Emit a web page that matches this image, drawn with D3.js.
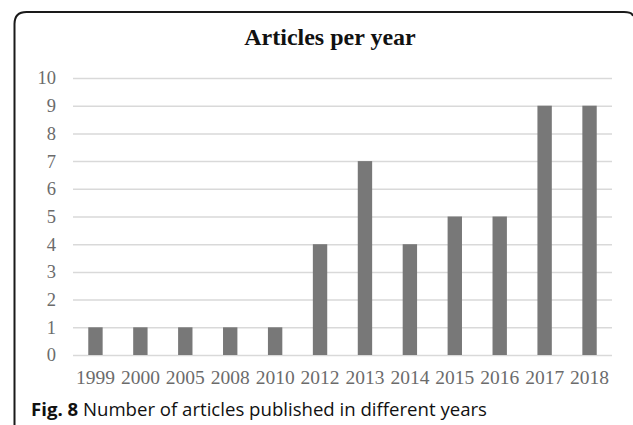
<!DOCTYPE html>
<html>
<head>
<meta charset="utf-8">
<script src="https://cdn.jsdelivr.net/npm/d3@7"></script>
<style>
  html, body { margin: 0; padding: 0; background: #fff; }
  svg { display: block; }
</style>
</head>
<body>
<svg id="chart" width="633" height="425"></svg>
<script>
// Publication counts per year
const years = ["1999", "2000", "2005", "2008", "2010", "2012", "2013", "2014", "2015", "2016", "2017", "2018"];
const articles = [1, 1, 1, 1, 1, 4, 7, 4, 5, 5, 9, 9];
const yTicks = [0, 1, 2, 3, 4, 5, 6, 7, 8, 9, 10];

const svg = d3.select("#chart");

// Panel frame: top and left edges with rounded corners
svg.append("path")
  .attr("d", "M14.5,425 L14.5,24 Q14.5,12 26.5,12 L624,12 Q632,12 633,16")
  .attr("fill", "none")
  .attr("stroke", "#1a1a1a")
  .attr("stroke-width", 2);

const plot = { left: 73, right: 612, top: 78, bottom: 355 };

const x = d3.scaleBand()
  .domain(years)
  .range([plot.left, plot.right])
  .paddingInner(0.68)
  .paddingOuter(0.34);

const y = d3.scaleLinear()
  .domain([0, 10])
  .range([plot.bottom, plot.top]);

// Title
svg.append("text")
  .attr("x", 330)
  .attr("y", 45)
  .attr("text-anchor", "middle")
  .attr("font-family", "'Liberation Serif', 'Times New Roman', serif")
  .attr("font-weight", "bold")
  .attr("font-size", 24)
  .attr("fill", "#111")
  .text("Articles per year");

// Horizontal gridlines + y tick labels
const yAxis = d3.axisLeft(y)
  .tickValues(yTicks)
  .tickSize(-(plot.right - plot.left))
  .tickPadding(17)
  .tickFormat(d3.format("d"));

const gy = svg.append("g")
  .attr("transform", `translate(${plot.left},0)`)
  .call(yAxis);
gy.select(".domain").remove();
gy.selectAll(".tick line")
  .attr("stroke", "#d9d9d9")
  .attr("stroke-width", 1.5);
gy.selectAll(".tick text")
  .attr("font-family", "'Liberation Serif', 'Times New Roman', serif")
  .attr("font-size", 18.5)
  .attr("fill", "#6b6b6b");

// Bars
svg.append("g")
  .selectAll("rect")
  .data(years.map((yr, i) => ({ yr, v: articles[i] })))
  .join("rect")
  .attr("x", d => x(d.yr))
  .attr("y", d => y(d.v))
  .attr("width", x.bandwidth())
  .attr("height", d => y(0) - y(d.v))
  .attr("fill", "#787878");

// Category labels
const xAxis = d3.axisBottom(x).tickSize(0).tickPadding(15);
const gx = svg.append("g")
  .attr("transform", `translate(0,${plot.bottom})`)
  .call(xAxis);
gx.select(".domain").remove();
gx.selectAll(".tick text")
  .attr("font-family", "'Liberation Serif', 'Times New Roman', serif")
  .attr("font-size", 19.5)
  .attr("fill", "#6b6b6b");

// Caption
const cap = svg.append("text")
  .attr("x", 31)
  .attr("y", 416)
  .attr("font-family", "'Open Sans', 'Noto Sans', sans-serif")
  .attr("font-size", 18.6)
  .attr("fill", "#111");
cap.append("tspan").attr("font-weight", "bold").text("Fig. 8");
cap.append("tspan").text(" Number of articles published in different years");
</script>
</body>
</html>
